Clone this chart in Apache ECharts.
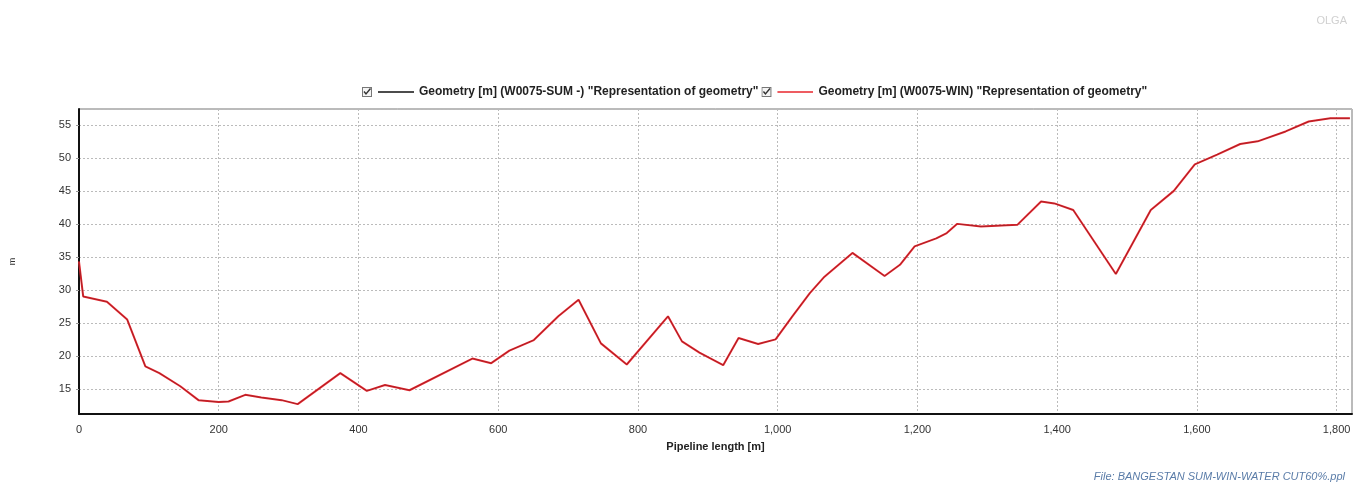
<!DOCTYPE html>
<html>
<head>
<meta charset="utf-8">
<script src="https://cdn.jsdelivr.net/npm/echarts@6/dist/echarts.min.js"></script>
<style>
  html, body { margin: 0; padding: 0; background: #fff; }
  #main { width: 1365px; height: 487px; }
</style>
</head>
<body>
<div id="main"></div>
<script>
// pipeline length [m] and elevation [m]
const lengthM = [0, 6, 40, 69, 95, 115, 145, 171, 200, 214, 238, 261, 290, 313, 374, 412, 438, 473, 563, 590,
  616, 651, 686, 715, 747, 784, 843, 863, 888, 922, 944, 972, 997, 1021, 1046, 1067, 1107, 1153, 1175, 1196,
  1227, 1242, 1257, 1291, 1343, 1377, 1396, 1423, 1484, 1534, 1567, 1597, 1629, 1662, 1687, 1727, 1760, 1791, 1819];
const geomSum = [34.3, 29.0, 28.2, 25.5, 18.4, 17.4, 15.4, 13.3, 13.0, 13.1, 14.1, 13.7, 13.3, 12.7, 17.4, 14.7, 15.6, 14.8, 19.6, 18.9,
  20.8, 22.4, 26.0, 28.5, 21.9, 18.7, 26.0, 22.2, 20.5, 18.6, 22.7, 21.8, 22.5, 26.0, 29.5, 32.0, 35.6, 32.1, 33.8, 36.6,
  37.8, 38.6, 40.0, 39.6, 39.85, 43.4, 43.1, 42.1, 32.4, 42.1, 45.0, 49.0, 50.5, 52.1, 52.5, 54.0, 55.5, 56.0, 56.0];
const geomWin = geomSum.slice();
const seriesNames = [
  'Geometry [m] (W0075-SUM -) "Representation of geometry"',
  'Geometry [m] (W0075-WIN) "Representation of geometry"'
];

const myChart = echarts.init(document.getElementById('main'));

// checkbox + line sample as legend icon
const legendIcon = (color) => {
  const svg = '<svg xmlns="http://www.w3.org/2000/svg" width="52" height="10" viewBox="0 0 52 10">' +
    '<rect x="0.5" y="0.5" width="9" height="9" fill="#f4f4f4" stroke="#777" stroke-width="1"/>' +
    '<path d="M2 4.5 L4 7 L8.5 1.5" fill="none" stroke="#333" stroke-width="1.4"/>' +
    '<line x1="16" y1="5" x2="52" y2="5" stroke="' + color + '" stroke-width="1.6"/></svg>';
  return 'image://data:image/svg+xml;charset=utf-8,' + encodeURIComponent(svg);
};

const toPairs = (ys) => lengthM.map((x, i) => [x, ys[i]]);

const option = {
  backgroundColor: '#ffffff',
  animation: false,
  title: [{
    text: 'OLGA',
    right: 13,
    top: 10,
    textStyle: { color: '#d0d0d0', fontSize: 11, fontWeight: 'normal', fontFamily: 'Liberation Sans' }
  }, {
    text: 'File: BANGESTAN SUM-WIN-WATER CUT60%.ppl',
    right: 15,
    bottom: 0,
    textStyle: { color: '#5a7ca8', fontSize: 11, fontStyle: 'italic', fontWeight: 'normal', fontFamily: 'Liberation Sans' }
  }],
  legend: {
    top: 81,
    left: 357,
    itemGap: 3,
    itemWidth: 52,
    itemHeight: 10,
    selectedMode: false,
    textStyle: { color: '#222', fontSize: 12, fontWeight: 'bold', fontFamily: 'Liberation Sans' },
    data: [
      { name: seriesNames[0], icon: legendIcon('#111111') },
      { name: seriesNames[1], icon: legendIcon('#e8262d') }
    ]
  },
  grid: {
    left: 77,
    right: 13,
    top: 109,
    bottom: 73,
    show: true,
    borderColor: '#777',
    borderWidth: 1
  },
  xAxis: {
    type: 'value',
    min: 0,
    max: 1822,
    splitNumber: 9,
    name: 'Pipeline length [m]',
    nameLocation: 'middle',
    nameGap: 27,
    nameTextStyle: { color: '#222', fontSize: 11, fontWeight: 'bold', fontFamily: 'Liberation Sans' },
    axisLine: { show: true, lineStyle: { color: '#111', width: 2 } },
    axisTick: { show: false },
    axisLabel: {
      color: '#333', fontSize: 11, fontFamily: 'Liberation Sans', margin: 10,
      showMaxLabel: false,
      formatter: (v) => v.toLocaleString('en-US')
    },
    splitLine: { show: true, lineStyle: { color: '#bbb', type: [2, 2], width: 1 } }
  },
  yAxis: {
    type: 'value',
    min: 11.2,
    max: 57.4,
    splitNumber: 9,
    name: 'm',
    nameLocation: 'middle',
    nameRotate: 90,
    nameGap: 62,
    nameTextStyle: { color: '#333', fontSize: 9, fontFamily: 'Liberation Sans' },
    axisLine: { show: true, lineStyle: { color: '#111', width: 2 } },
    axisTick: { show: true, length: 3, lineStyle: { color: '#999' } },
    axisLabel: {
      color: '#333', fontSize: 11, fontFamily: 'Liberation Sans', margin: 8,
      showMinLabel: false, showMaxLabel: false
    },
    splitLine: { show: true, lineStyle: { color: '#bbb', type: [2, 2], width: 1 } }
  },
  series: [
    {
      name: seriesNames[0],
      type: 'line',
      data: toPairs(geomSum),
      symbol: 'none',
      z: 3,
      lineStyle: { color: '#111111', width: 1, opacity: 0.3 },
      itemStyle: { color: '#111111' }
    },
    {
      name: seriesNames[1],
      type: 'line',
      data: toPairs(geomWin),
      symbol: 'none',
      z: 2,
      lineStyle: { color: '#ec2830', width: 2 },
      itemStyle: { color: '#ec2830' }
    }
  ]
};

myChart.setOption(option);
</script>
</body>
</html>
